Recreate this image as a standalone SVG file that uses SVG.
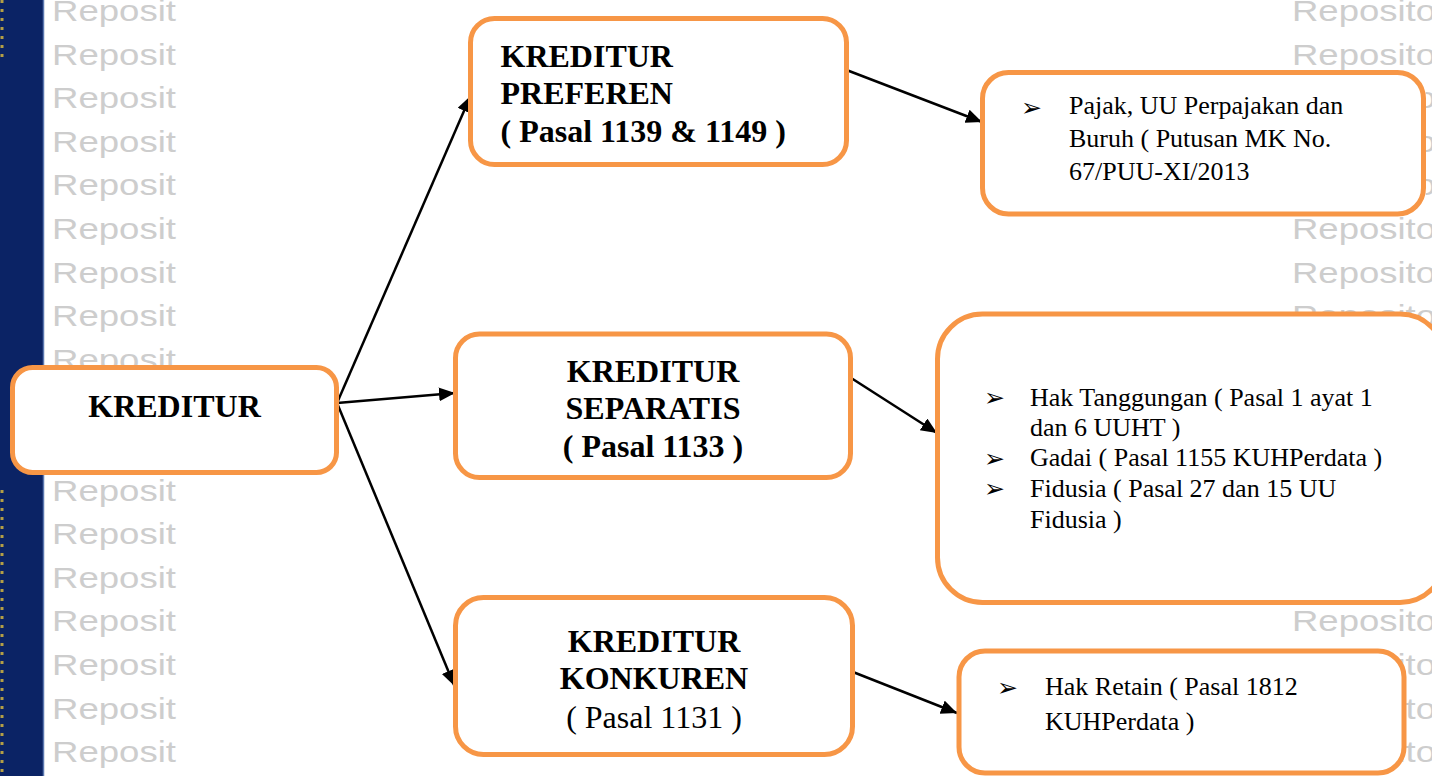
<svg xmlns="http://www.w3.org/2000/svg" width="1432" height="776" viewBox="0 0 1432 776">
<defs>
<style>
.box{fill:#ffffff;stroke:#f79646;stroke-width:5}
.wm{font-family:"Liberation Sans",Arial,sans-serif;font-size:29px;fill:#cdcdcd}
.t{font-family:"Liberation Serif","Times New Roman",serif;fill:#000000}
.b{font-weight:bold;font-size:32px}
.rg{font-size:32px}
.s{font-size:26px}
.bl{font-family:"DejaVu Sans",sans-serif;font-size:25px;fill:#000000}
.c{stroke:#000000;stroke-width:2.5;fill:none;marker-end:url(#ah)}
</style>
<marker id="ah" markerUnits="userSpaceOnUse" markerWidth="18" markerHeight="16" refX="16" refY="7" orient="auto"><path d="M0,0 L16,7 L0,14 z" fill="#000000"/></marker>
<clipPath id="lc"><rect x="44" y="0" width="134" height="776"/></clipPath>
<clipPath id="rc"><rect x="1426" y="0" width="6" height="776"/></clipPath>
</defs>

<g id="background">
<rect x="0" y="0" width="1432" height="776" fill="#ffffff"/>
<rect x="0" y="0" width="43" height="776" fill="#0b2365"/>
<line x1="43.5" y1="0" x2="43.5" y2="776" stroke="#5b78b0" stroke-width="1.5"/>
<line x1="2" y1="490" x2="2" y2="776" stroke="#b59f45" stroke-width="3" stroke-dasharray="3 6"/>
<line x1="2" y1="0" x2="2" y2="60" stroke="#b59f45" stroke-width="3" stroke-dasharray="3 6"/>
</g>

<g id="watermark" class="wm">
<g clip-path="url(#lc)">
<text x="52" y="21" textLength="124" lengthAdjust="spacingAndGlyphs">Reposit</text>
<text x="52" y="64.6" textLength="124" lengthAdjust="spacingAndGlyphs">Reposit</text>
<text x="52" y="108.2" textLength="124" lengthAdjust="spacingAndGlyphs">Reposit</text>
<text x="52" y="151.8" textLength="124" lengthAdjust="spacingAndGlyphs">Reposit</text>
<text x="52" y="195.4" textLength="124" lengthAdjust="spacingAndGlyphs">Reposit</text>
<text x="52" y="239" textLength="124" lengthAdjust="spacingAndGlyphs">Reposit</text>
<text x="52" y="282.6" textLength="124" lengthAdjust="spacingAndGlyphs">Reposit</text>
<text x="52" y="326.2" textLength="124" lengthAdjust="spacingAndGlyphs">Reposit</text>
<text x="52" y="369.8" textLength="124" lengthAdjust="spacingAndGlyphs">Reposit</text>
<text x="52" y="500.6" textLength="124" lengthAdjust="spacingAndGlyphs">Reposit</text>
<text x="52" y="544.2" textLength="124" lengthAdjust="spacingAndGlyphs">Reposit</text>
<text x="52" y="587.8" textLength="124" lengthAdjust="spacingAndGlyphs">Reposit</text>
<text x="52" y="631.4" textLength="124" lengthAdjust="spacingAndGlyphs">Reposit</text>
<text x="52" y="675" textLength="124" lengthAdjust="spacingAndGlyphs">Reposit</text>
<text x="52" y="718.6" textLength="124" lengthAdjust="spacingAndGlyphs">Reposit</text>
<text x="52" y="762.2" textLength="124" lengthAdjust="spacingAndGlyphs">Reposit</text>
</g>
<text x="1292" y="21" textLength="144" lengthAdjust="spacingAndGlyphs">Reposito</text>
<text x="1292" y="64.6" textLength="144" lengthAdjust="spacingAndGlyphs">Reposito</text>
<g clip-path="url(#rc)">
<text x="1416" y="108.2" textLength="20" lengthAdjust="spacingAndGlyphs">o</text>
<text x="1416" y="151.8" textLength="20" lengthAdjust="spacingAndGlyphs">o</text>
<text x="1416" y="195.4" textLength="20" lengthAdjust="spacingAndGlyphs">o</text>
</g>
<text x="1292" y="239" textLength="144" lengthAdjust="spacingAndGlyphs">Reposito</text>
<text x="1292" y="282.6" textLength="144" lengthAdjust="spacingAndGlyphs">Reposito</text>
<text x="1292" y="326.2" textLength="144" lengthAdjust="spacingAndGlyphs">Reposito</text>
<text x="1292" y="631.4" textLength="144" lengthAdjust="spacingAndGlyphs">Reposito</text>
<text x="1292" y="675" textLength="144" lengthAdjust="spacingAndGlyphs">Reposito</text>
<text x="1292" y="718.6" textLength="144" lengthAdjust="spacingAndGlyphs">Reposito</text>
<text x="1292" y="762.2" textLength="144" lengthAdjust="spacingAndGlyphs">Reposito</text>
</g>

<g id="connectors">
<path class="c" d="M337,403 L470.5,96"/>
<path class="c" d="M337,403 L455,393"/>
<path class="c" d="M337,403 L454.5,686"/>
<path class="c" d="M846.5,70 L982,122"/>
<path class="c" d="M848,376 L937,433"/>
<path class="c" d="M853,672 L957,713"/>
</g>

<g id="node-kreditur">
<rect class="box" x="12.5" y="367.5" width="324" height="105" rx="20"/>
<text class="t b" x="174.5" y="416.5" text-anchor="middle">KREDITUR</text>
</g>

<g id="node-preferen">
<rect class="box" x="470.5" y="18.5" width="376" height="146" rx="24"/>
<text class="t b" x="500.5" y="66.5">KREDITUR</text>
<text class="t b" x="500.5" y="104">PREFEREN</text>
<text class="t b" x="500.5" y="141.5">( Pasal 1139 &amp; 1149 )</text>
</g>

<g id="node-separatis">
<rect class="box" x="455.5" y="334" width="395" height="143.5" rx="24"/>
<text class="t b" x="653" y="381.5" text-anchor="middle">KREDITUR</text>
<text class="t b" x="653" y="419" text-anchor="middle">SEPARATIS</text>
<text class="t b" x="653" y="456.5" text-anchor="middle">( Pasal 1133 )</text>
</g>

<g id="node-konkuren">
<rect class="box" x="455.5" y="597.5" width="397" height="157" rx="28"/>
<text class="t b" x="654" y="651.5" text-anchor="middle">KREDITUR</text>
<text class="t b" x="654" y="689" text-anchor="middle">KONKUREN</text>
<text class="t rg" x="654" y="727.5" text-anchor="middle">( Pasal 1131 )</text>
</g>

<g id="node-pajak">
<rect class="box" x="982.5" y="72.5" width="441" height="141.5" rx="26"/>
<text class="bl" x="1021" y="116">➢</text>
<text class="t s" x="1069" y="114.3">Pajak, UU Perpajakan dan</text>
<text class="t s" x="1069" y="147.3">Buruh ( Putusan MK No.</text>
<text class="t s" x="1069" y="180">67/PUU-XI/2013</text>
</g>

<g id="node-jaminan">
<rect class="box" x="937.5" y="314" width="507.5" height="288.5" rx="45"/>
<text class="bl" x="984" y="406">➢</text>
<text class="t s" x="1030" y="405.7">Hak Tanggungan ( Pasal 1 ayat 1</text>
<text class="t s" x="1030" y="436">dan 6 UUHT )</text>
<text class="bl" x="984" y="467">➢</text>
<text class="t s" x="1030" y="466">Gadai ( Pasal 1155 KUHPerdata )</text>
<text class="bl" x="984" y="497">➢</text>
<text class="t s" x="1030" y="496.7">Fidusia ( Pasal 27 dan 15 UU</text>
<text class="t s" x="1030" y="528.3">Fidusia )</text>
</g>

<g id="node-retain">
<rect class="box" x="959" y="651" width="445" height="122" rx="26"/>
<text class="bl" x="997" y="696">➢</text>
<text class="t s" x="1045" y="695">Hak Retain ( Pasal 1812</text>
<text class="t s" x="1045" y="730">KUHPerdata )</text>
</g>
</svg>
